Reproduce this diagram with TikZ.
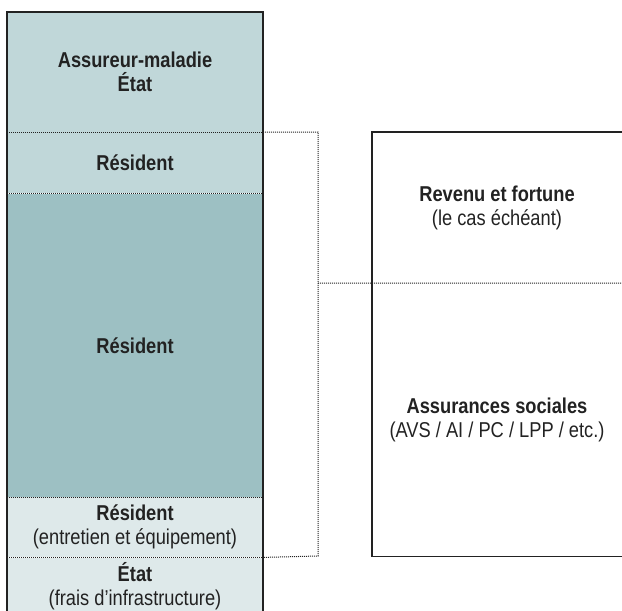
\documentclass[tikz,border=0pt]{standalone}
\usepackage{fontspec}
\setmainfont{Liberation Sans}[FakeStretch=0.85]
\usepackage{tikz}
\usetikzlibrary{positioning}
\definecolor{bandpale}{HTML}{C0D7D9}
\definecolor{banddark}{HTML}{9DC0C3}
\definecolor{bandlight}{HTML}{DEE9EA}
\definecolor{inkgray}{HTML}{222222}
\tikzset{%
  band/.style     = {shape=rectangle, inner sep=0pt, align=center,%
                     minimum width=256pt, text=inkgray,%
                     font=\fontsize{21.5}{24}\selectfont},%
  source/.style   = {band, minimum width=250pt},%
  frame/.style    = {draw=inkgray, line width=1.5pt},%
  dotline/.style  = {draw=inkgray, dash pattern=on 1pt off 1pt, line width=1pt}%
}

\begin{document}
\begin{tikzpicture}[x=1pt,y=-1pt]
	\clip (0,0) rectangle (622,611);
	% left column
	\node[band, fill=bandpale, minimum height=120pt] (payeur) at (135,72) {\textbf{Assureur-maladie}\\\textbf{État}};
	\node[band, fill=bandpale, minimum height=61pt, below=0pt of payeur] (resA) {\textbf{Résident}};
	\node[band, fill=banddark, minimum height=303pt, below=0pt of resA] (resB) {\textbf{Résident}};
	\node[band, fill=bandlight, minimum height=60pt, below=0pt of resB] (resC) {\textbf{Résident}\\(entretien et équipement)};
	\node[band, fill=bandlight, minimum height=58pt, below=0pt of resC] (etat) {\textbf{État}\\(frais d’infrastructure)};
	\draw[dotline] (payeur.south west) -- (payeur.south east);
	\draw[dotline] (resA.south west) -- (resA.south east);
	\draw[dotline] (resB.south west) -- (resB.south east);
	\draw[dotline] (resC.south west) -- (resC.south east);
	\draw[frame] (payeur.north west) rectangle (etat.south east);
	% right column
	\node[source, minimum height=151pt] (revenu) at (497,207.5) {\textbf{Revenu et fortune}\\(le cas échéant)};
	\node[source, minimum height=273pt, below=0pt of revenu] (sociales) {\textbf{Assurances sociales}\\(AVS / AI / PC / LPP / etc.)};
	\draw[frame] (revenu.north east) -- (revenu.north west) -- (sociales.south west) -- (sociales.south east);
	% bracket
	\coordinate (brtop) at (318,132);
	\coordinate (brmid) at (318,283);
	\coordinate (brbot) at (318,556);
	\draw[dotline] (resA.north east) -- (brtop) -- (brbot) -- (resC.south east);
	\draw[dotline] (brmid) -- (revenu.south east);
\end{tikzpicture}
\end{document}
